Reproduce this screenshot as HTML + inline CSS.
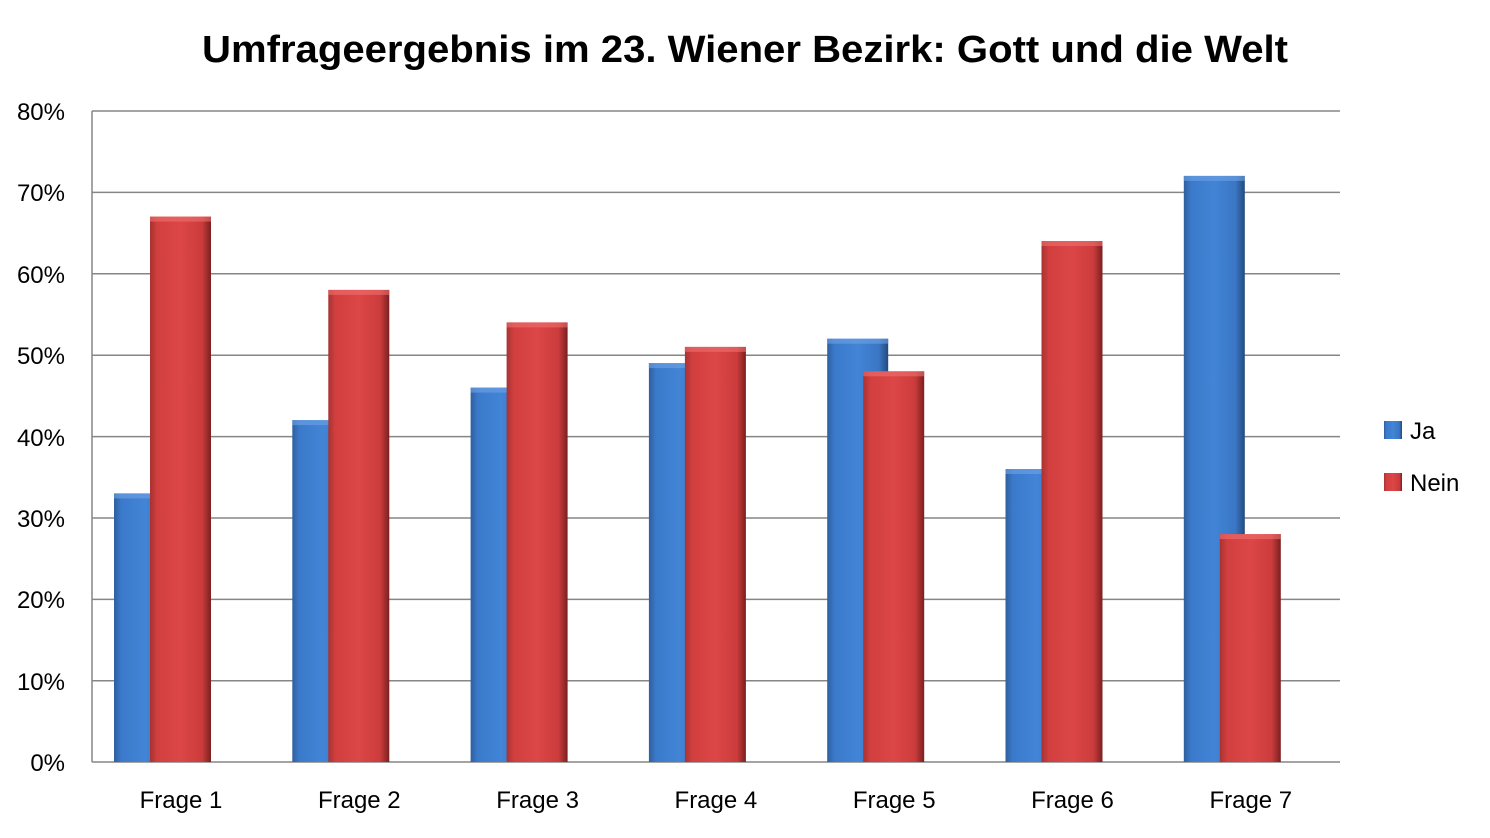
<!DOCTYPE html>
<html><head><style>body{margin:0;background:#fff}</style></head><body>
<svg width="1490" height="833" xmlns="http://www.w3.org/2000/svg" font-family="Liberation Sans, sans-serif">
<defs>
<linearGradient id="b" x1="0" x2="1"><stop offset="0" stop-color="#2f5f9e"/><stop offset="0.12" stop-color="#3b7acb"/><stop offset="0.5" stop-color="#4284d6"/><stop offset="0.85" stop-color="#3a76c4"/><stop offset="1" stop-color="#234a7c"/></linearGradient>
<linearGradient id="r" x1="0" x2="1"><stop offset="0" stop-color="#a83232"/><stop offset="0.12" stop-color="#d23f3f"/><stop offset="0.5" stop-color="#dc4646"/><stop offset="0.85" stop-color="#cc3c3c"/><stop offset="1" stop-color="#7a2020"/></linearGradient>
</defs>
<text x="202" y="62" textLength="1086" lengthAdjust="spacingAndGlyphs" font-size="38" font-weight="bold" fill="#000">Umfrageergebnis im 23. Wiener Bezirk: Gott und die Welt</text>
<g stroke="#868686" stroke-width="1.5">
<line x1="92" y1="111" x2="1340" y2="111"/><line x1="92" y1="192.4" x2="1340" y2="192.4"/><line x1="92" y1="273.8" x2="1340" y2="273.8"/><line x1="92" y1="355.2" x2="1340" y2="355.2"/><line x1="92" y1="436.6" x2="1340" y2="436.6"/><line x1="92" y1="518" x2="1340" y2="518"/><line x1="92" y1="599.4" x2="1340" y2="599.4"/><line x1="92" y1="680.8" x2="1340" y2="680.8"/><line x1="92" y1="762" x2="1340" y2="762"/><line x1="92" y1="111" x2="92" y2="762"/>
</g>
<g font-size="24" fill="#000" text-anchor="end">
<text x="65" y="120">80%</text><text x="65" y="201">70%</text><text x="65" y="283">60%</text><text x="65" y="364">50%</text><text x="65" y="446">40%</text><text x="65" y="527">30%</text><text x="65" y="608">20%</text><text x="65" y="690">10%</text><text x="65" y="771">0%</text>
</g>
<g>
<rect x="114" y="493.4" width="61" height="268.6" fill="url(#b)"/><rect x="150" y="216.6" width="61" height="545.4" fill="url(#r)"/>
<rect x="292.3" y="420.1" width="61" height="341.9" fill="url(#b)"/><rect x="328.3" y="289.9" width="61" height="472.1" fill="url(#r)"/>
<rect x="470.6" y="387.6" width="61" height="374.4" fill="url(#b)"/><rect x="506.6" y="322.4" width="61" height="439.6" fill="url(#r)"/>
<rect x="648.9" y="363.1" width="61" height="398.9" fill="url(#b)"/><rect x="684.9" y="346.9" width="61" height="415.1" fill="url(#r)"/>
<rect x="827.2" y="338.7" width="61" height="423.3" fill="url(#b)"/><rect x="863.2" y="371.3" width="61" height="390.7" fill="url(#r)"/>
<rect x="1005.5" y="469" width="61" height="293" fill="url(#b)"/><rect x="1041.5" y="241" width="61" height="521" fill="url(#r)"/>
<rect x="1183.8" y="175.9" width="61" height="586.1" fill="url(#b)"/><rect x="1219.8" y="534.1" width="61" height="227.9" fill="url(#r)"/>
</g>
<g fill="#6fa3e6" opacity="0.6">
<rect x="114" y="493.4" width="36" height="5"/><rect x="292.3" y="420.1" width="36" height="5"/><rect x="470.6" y="387.6" width="36" height="5"/><rect x="648.9" y="363.1" width="36" height="5"/><rect x="827.2" y="338.7" width="61" height="5"/><rect x="1005.5" y="469" width="36" height="5"/><rect x="1183.8" y="175.9" width="61" height="5"/>
</g>
<g fill="#f07070" opacity="0.6">
<rect x="150" y="216.6" width="61" height="5"/><rect x="328.3" y="289.9" width="61" height="5"/><rect x="506.6" y="322.4" width="61" height="5"/><rect x="684.9" y="346.9" width="61" height="5"/><rect x="863.2" y="371.3" width="61" height="5"/><rect x="1041.5" y="241" width="61" height="5"/><rect x="1219.8" y="534.1" width="61" height="5"/>
</g>
<g font-size="24" fill="#000" text-anchor="middle">
<text x="181" y="808">Frage 1</text><text x="359.3" y="808">Frage 2</text><text x="537.6" y="808">Frage 3</text><text x="715.9" y="808">Frage 4</text><text x="894.2" y="808">Frage 5</text><text x="1072.5" y="808">Frage 6</text><text x="1250.8" y="808">Frage 7</text>
</g>
<rect x="1384" y="421" width="18" height="18" fill="url(#b)"/><text x="1410" y="439" font-size="24">Ja</text>
<rect x="1384" y="473" width="18" height="18" fill="url(#r)"/><text x="1410" y="491" font-size="24">Nein</text>
</svg>
</body></html>
